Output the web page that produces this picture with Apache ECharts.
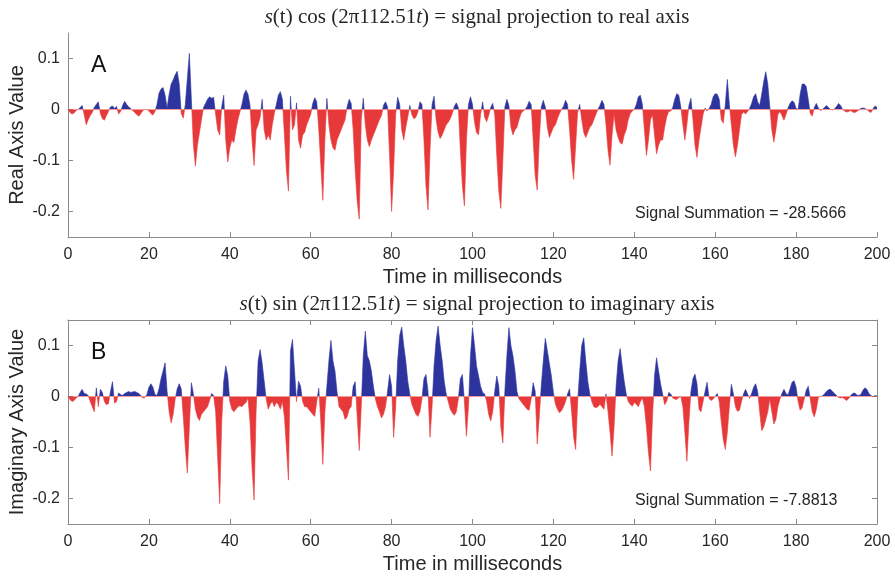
<!DOCTYPE html>
<html>
<head>
<meta charset="UTF-8">
<title>Signal projection</title>
<script src="https://cdn.jsdelivr.net/npm/echarts@6/dist/echarts.min.js"></script>
</head>
<body style="margin:0;background:#fff">
	<div id="main" style="width:895px;height:580px;"></div>
	<script type="text/javascript">
		// sample spacing in ms
		var timeStep = 0.5;
		// s(t) cos(2*pi*112.51t), one row = 10 ms
		var realProj = [
			0, -0.006, -0.009, -0.007, -0.002, 0, 0.004, 0.008, -0.01, -0.03, -0.02, -0.012, -0.006, 0.004, 0.01, 0.015, -0.008, -0.018, -0.021, -0.012,
			-0.004, 0.005, 0.007, 0.002, 0.006, -0.009, -0.004, 0.008, 0.016, 0.01, 0.005, 0.002, -0.002, -0.006, -0.01, -0.013, -0.008, -0.002, 0, 0,
			-0.003, -0.008, -0.011, -0.004, 0.01, 0.032, 0.04, 0.043, 0.028, 0.003, 0.03, 0.05, 0.058, 0.068, 0.075, 0.05, -0.008, -0.017, 0.01, 0.06,
			0.11, 0.02, -0.07, -0.111, -0.07, -0.045, -0.02, 0.004, 0.012, 0.02, 0.025, 0.022, 0.024, -0.01, -0.04, -0.05, 0.005, 0.028, -0.06, -0.103,
			-0.075, -0.06, -0.065, -0.04, -0.02, -0.005, 0.01, 0.03, 0.038, 0.03, 0.008, -0.06, -0.11, -0.04, -0.03, -0.015, 0.02, -0.04, -0.06, -0.05,
			-0.06, -0.03, -0.008, 0.01, 0.028, 0.035, 0.02, -0.05, -0.12, -0.16, 0.026, -0.04, -0.03, 0.013, -0.06, -0.076, -0.05, -0.045, -0.03, -0.02,
			-0.01, 0.012, 0.023, 0.015, -0.04, -0.11, -0.178, -0.06, 0.022, -0.03, -0.06, -0.075, -0.08, -0.06, -0.05, -0.04, -0.03, -0.02, 0.005, 0.02,
			0.012, -0.04, -0.12, -0.18, -0.215, -0.02, 0.022, -0.03, -0.06, -0.073, -0.06, -0.05, -0.04, -0.03, -0.02, -0.012, 0.008, 0.015, 0.005, -0.09,
			-0.2, -0.12, -0.01, 0.024, 0.01, -0.04, -0.06, -0.035, -0.015, 0.008, -0.01, -0.018, -0.015, -0.005, 0.015, 0.01, -0.06, -0.15, -0.197, -0.08,
			0.01, 0.026, -0.02, -0.045, -0.057, -0.05, -0.04, -0.03, -0.025, -0.018, -0.008, 0.006, 0.013, 0.004, -0.08, -0.15, -0.189, -0.06, 0.01, 0.025,
			0.01, -0.025, -0.045, -0.05, -0.01, 0.015, -0.015, -0.024, -0.012, 0.004, 0.012, -0.01, -0.09, -0.16, -0.194, -0.1, 0.005, 0.02, 0.008, -0.035,
			-0.05, -0.04, -0.035, -0.02, -0.008, -0.003, 0, 0.006, 0.016, 0.01, -0.06, -0.13, -0.158, -0.06, 0.005, 0.018, 0.005, -0.035, -0.055, -0.045,
			-0.035, -0.03, -0.018, -0.008, 0, 0.006, 0.018, 0.01, -0.04, -0.1, -0.137, -0.07, -0.005, 0.01, -0.02, -0.045, -0.055, -0.045, -0.035, -0.03,
			-0.02, -0.01, 0, 0.008, 0.018, 0.01, -0.03, -0.08, -0.109, -0.05, -0.01, -0.04, -0.055, -0.065, -0.068, -0.05, -0.04, -0.02, -0.008, -0.003,
			0, 0.01, 0.025, 0.028, 0.01, -0.04, -0.09, -0.06, -0.02, -0.01, -0.05, -0.087, -0.07, -0.06, -0.06, -0.035, -0.015, -0.004, -0.003, 0.004,
			0.02, 0.031, 0.028, 0.005, -0.03, -0.06, -0.03, 0.008, 0.022, -0.02, -0.07, -0.094, -0.06, -0.035, -0.01, 0.003, -0.003, 0.002, 0.01, 0.025,
			0.031, 0.03, 0.02, -0.02, -0.027, 0.01, 0.059, 0.01, -0.03, -0.07, -0.093, -0.07, -0.04, -0.01, -0.005, -0.009, -0.004, 0.002, 0.012, 0.025,
			0.031, 0.015, 0.008, 0.03, 0.055, 0.074, 0.05, 0.005, -0.04, -0.064, -0.04, -0.01, -0.004, -0.012, -0.021, -0.01, 0.003, 0.012, 0.017, 0.014,
			0.002, 0, 0.03, 0.05, 0.05, 0.045, 0.02, -0.008, -0.013, 0.004, 0.012, 0.003, -0.002, 0, 0.004, 0.008, 0.004, 0, -0.001, 0.001,
			0.006, 0.012, 0.008, 0, -0.003, -0.005, -0.004, -0.002, -0.005, -0.006, -0.004, -0.001, 0.002, 0.003, 0.002, 0, -0.004, -0.006, 0.001, 0.007,
			0.004
		];
		// s(t) sin(2*pi*112.51t), one row = 10 ms
		var imagProj = [
			0, -0.006, -0.01, -0.008, -0.003, 0, 0.008, 0.014, 0.006, 0.005, 0.002, -0.01, -0.02, -0.03, 0.017, -0.02, 0.014, 0.008, -0.01, -0.016,
			-0.014, 0.01, 0.029, -0.013, -0.01, 0.007, 0.004, 0.002, 0.006, 0.008, 0.01, 0.008, 0.009, 0.01, 0.008, 0.006, 0.002, -0.003, -0.002, 0.004,
			0.018, 0.025, 0.018, 0.004, 0.002, 0.015, 0.035, 0.05, 0.066, 0.01, -0.03, -0.052, -0.035, -0.005, 0.015, 0.025, 0.015, -0.04, -0.1, -0.15,
			-0.06, 0.027, 0.005, -0.025, -0.04, -0.047, -0.035, -0.03, -0.025, -0.02, -0.008, 0.006, 0.002, -0.03, -0.12, -0.21, -0.05, 0.03, 0.06, 0.04,
			-0.01, -0.025, -0.03, -0.025, -0.02, -0.018, -0.02, -0.015, -0.012, -0.003, -0.05, -0.14, -0.203, -0.03, 0.07, 0.092, 0.065, 0.03, -0.005, -0.025,
			-0.015, -0.01, -0.02, -0.012, -0.015, -0.025, -0.01, -0.04, -0.1, -0.164, 0.089, 0.112, 0.05, -0.01, 0.03, 0.02, -0.01, -0.02, -0.02, -0.025,
			-0.03, -0.035, -0.039, -0.01, 0.016, -0.05, -0.133, -0.03, 0.02, 0.07, 0.11, 0.07, 0.05, 0.01, -0.02, -0.025, -0.03, -0.045, -0.04, -0.025,
			-0.02, 0.02, 0.029, -0.04, -0.106, -0.02, 0.08, 0.128, 0.08, 0.07, 0.05, 0.02, -0.005, -0.02, -0.03, -0.042, -0.035, -0.02, 0.01, 0.043,
			0.02, -0.08, -0.02, 0.07, 0.12, 0.136, 0.1, 0.07, 0.03, 0.005, -0.015, -0.025, -0.035, -0.039, -0.03, -0.005, 0.035, 0.043, 0.01, -0.08,
			-0.02, 0.06, 0.11, 0.138, 0.1, 0.07, 0.03, 0.005, -0.01, -0.025, -0.032, -0.037, -0.03, -0.005, 0.035, 0.043, -0.01, -0.078, -0.02, 0.08,
			0.135, 0.1, 0.06, 0.04, 0.02, 0.008, 0.005, -0.01, -0.035, -0.048, -0.03, 0.01, 0.04, 0.02, -0.06, -0.091, 0.01, 0.08, 0.135, 0.1,
			0.08, 0.05, 0.01, -0.005, -0.01, -0.015, -0.02, -0.025, -0.027, -0.005, 0.027, 0.01, -0.093, -0.04, 0.02, 0.07, 0.114, 0.09, 0.065, 0.04,
			0.008, -0.015, -0.025, -0.032, -0.028, -0.02, -0.01, 0.005, 0.015, -0.03, -0.08, -0.104, -0.01, 0.05, 0.1, 0.115, 0.07, 0.03, 0.005, -0.01,
			-0.02, -0.022, -0.02, -0.015, -0.02, -0.025, 0.005, -0.03, -0.07, -0.117, -0.06, 0.02, 0.07, 0.094, 0.06, 0.03, 0.005, -0.01, -0.015, -0.019,
			-0.012, -0.015, -0.02, -0.01, -0.003, -0.02, -0.06, -0.11, -0.146, -0.04, 0.04, 0.076, 0.05, 0.025, 0.005, -0.016, -0.01, 0.008, 0.005, -0.003,
			-0.005, -0.006, -0.002, 0, -0.02, -0.07, -0.127, -0.05, 0.01, 0.035, 0.044, 0.025, -0.025, -0.03, -0.01, 0.01, 0.028, -0.004, -0.008, -0.005,
			0, 0.006, -0.01, -0.05, -0.085, -0.104, -0.07, -0.02, 0.024, 0.005, -0.02, -0.029, -0.027, -0.01, 0.005, 0.014, 0.005, -0.004, 0.006, 0.018,
			0.025, 0.01, -0.03, -0.067, -0.06, -0.045, -0.03, -0.005, -0.03, -0.054, -0.045, -0.02, -0.005, 0.006, 0.014, 0.006, 0.003, 0.015, 0.028, 0.031,
			0.018, -0.01, -0.027, -0.022, -0.005, 0.012, 0.02, -0.005, -0.03, -0.04, -0.025, -0.002, 0, 0.001, 0.005, 0.01, 0.013, 0.014, 0.01, 0.006,
			0.002, -0.002, -0.003, -0.002, -0.005, -0.008, -0.004, 0.002, 0.006, 0.007, 0.003, 0.002, 0.004, 0.012, 0.017, 0.014, 0.006, 0.002, -0.001, 0.002,
			0.001
		];
		var yTicks = [-0.2, -0.1, 0, 0.1];
		var panelLetters = ['A', 'B'];
		var sumLabels = ['Signal Summation = -28.5666', 'Signal Summation = -7.8813'];
		var yNames = ['Real Axis Value', 'Imaginary Axis Value'];
		var xName = 'Time in milliseconds';
		var titleTexts = [
			'{i|s}(t) cos (2π112.51{i|t}) = signal projection to real axis',
			'{i|s}(t) sin (2π112.51{i|t}) = signal projection to imaginary axis'
		];

		var BLUE = '#2d349e';
		var RED = '#e8393a';
		var AXIS = '#8a8a8a';
		var TXT = '#262626';
		var SANS = '"Liberation Sans", Arial, sans-serif';
		var SERIF = '"Liberation Serif", "DejaVu Serif", serif';

		function toPairs(arr) {
			return arr.map(function (v, i) { return [i * timeStep, v]; });
		}

		var gridTops = [33, 320];

		function xAx(grid, pos, labels) {
			return {
				type: 'value', gridIndex: grid, position: pos, min: 0, max: 200, interval: 20,
				name: labels ? xName : '', nameLocation: 'middle', nameGap: 30,
				nameTextStyle: { fontFamily: SANS, fontSize: 20, color: TXT },
				axisLine: { show: true, onZero: false, lineStyle: { color: AXIS, width: 1 } },
				axisTick: { show: true, inside: true, length: 5, lineStyle: { color: AXIS } },
				axisLabel: { show: labels, margin: 10, fontFamily: SANS, fontSize: 16, color: TXT },
				splitLine: { show: false }
			};
		}
		function yAx(grid, pos, name) {
			return {
				type: 'value', gridIndex: grid, position: pos, min: -0.25, max: 0.15,
				name: name || '', nameLocation: 'middle', nameGap: 41, nameMoveOverlap: false,
				nameTextStyle: { fontFamily: SANS, fontSize: 20, color: TXT },
				axisLine: { show: true, onZero: false, lineStyle: { color: AXIS, width: 1 } },
				axisTick: { show: true, inside: true, length: 5, customValues: yTicks, lineStyle: { color: AXIS } },
				axisLabel: { show: !!name, margin: 8, customValues: yTicks, fontFamily: SANS, fontSize: 16, color: TXT },
				splitLine: { show: false }
			};
		}

		var titles = [];
		for (var p = 0; p < 2; p++) {
			titles.push({
				text: titleTexts[p], left: 472, top: gridTops[p] - 31, textAlign: 'center',
				textStyle: { fontFamily: SERIF, fontSize: 21, fontWeight: 'normal', color: TXT,
					rich: { i: { fontFamily: SERIF, fontStyle: 'italic', fontSize: 21, color: TXT } } }
			});
			titles.push({
				text: panelLetters[p], left: 86, top: gridTops[p] + 16,
				textStyle: { fontFamily: SANS, fontSize: 23, fontWeight: 'normal', color: '#111' }
			});
			titles.push({
				text: sumLabels[p], left: 630, top: gridTops[p] + 168,
				textStyle: { fontFamily: SANS, fontSize: 16, fontWeight: 'normal', color: TXT }
			});
		}

		var myChart = echarts.init(document.getElementById('main'));
		var option = {
			animation: false,
			backgroundColor: '#fff',
			title: titles,
			grid: [
				{ left: 68, right: 18, top: gridTops[0], height: 204, outerBoundsMode: 'none' },
				{ left: 68, right: 18, top: gridTops[1], height: 204, outerBoundsMode: 'none' }
			],
			xAxis: [xAx(0, 'bottom', true), xAx(1, 'bottom', true), xAx(1, 'top', false)],
			yAxis: [yAx(0, 'left', yNames[0]), yAx(1, 'left', yNames[1]), yAx(1, 'right', '')],
			visualMap: [
				{ type: 'piecewise', show: false, seriesIndex: 0, dimension: 1,
					pieces: [{ gte: -1, lt: 0, color: RED }, { gte: 0, lte: 1, color: BLUE }] },
				{ type: 'piecewise', show: false, seriesIndex: 1, dimension: 1,
					pieces: [{ gte: -1, lt: 0, color: RED }, { gte: 0, lte: 1, color: BLUE }] }
			],
			series: [
				{
					type: 'line', xAxisIndex: 0, yAxisIndex: 0, data: toPairs(realProj),
					symbol: 'none', lineStyle: { width: 0.6 }, areaStyle: { opacity: 1 }
				},
				{
					type: 'line', xAxisIndex: 1, yAxisIndex: 1, data: toPairs(imagProj),
					symbol: 'none', lineStyle: { width: 0.6 }, areaStyle: { opacity: 1 }
				}
			]
		};
		myChart.setOption(option);
	</script>
</body>
</html>
